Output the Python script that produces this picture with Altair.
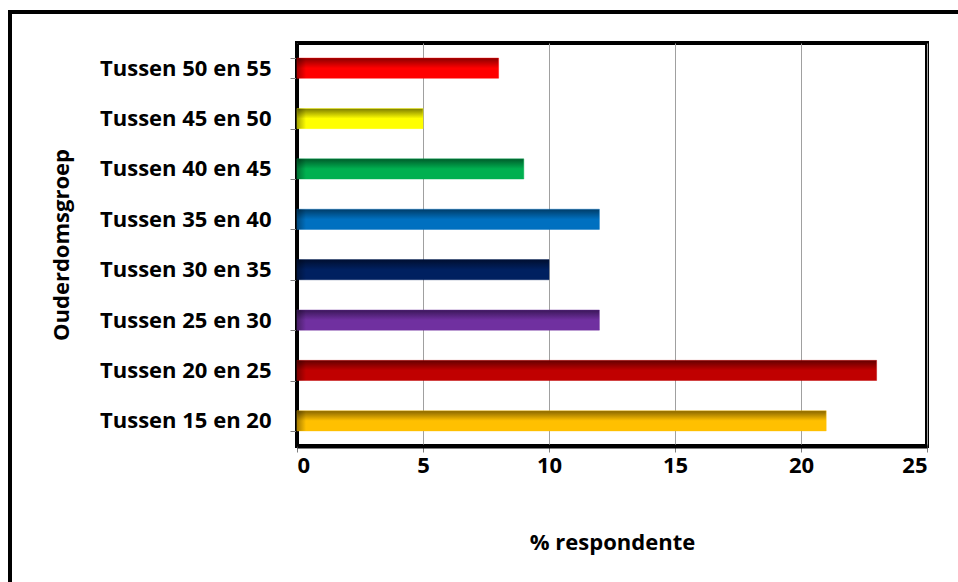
import altair as alt
import pandas as pd

# Age groups (top to bottom) and share of respondents in percent
groups = [
    "Tussen 50 en 55",
    "Tussen 45 en 50",
    "Tussen 40 en 45",
    "Tussen 35 en 40",
    "Tussen 30 en 35",
    "Tussen 25 en 30",
    "Tussen 20 en 25",
    "Tussen 15 en 20",
]
values = [8, 5, 9, 12, 10, 12, 23, 21]

# Bar fill: (shaded top, full colour)
palette = [
    ("#8a0000", "#ff0000"),
    ("#7d7d00", "#ffff00"),
    ("#005c2b", "#00b050"),
    ("#003c68", "#0070c0"),
    ("#000f30", "#002060"),
    ("#3a1758", "#7030a0"),
    ("#640000", "#c00000"),
    ("#866400", "#ffc000"),
]

df = pd.DataFrame({"group": groups, "value": values})

FONT = "Open Sans"
FS = 22

y_enc = alt.Y(
    "group:N",
    sort=groups,
    scale=alt.Scale(paddingInner=0.6, paddingOuter=0.3),
    axis=alt.Axis(
        title="Ouderdomsgroep",
        tickBand="extent",
        tickSize=7,
        tickColor="#7f7f7f",
        labelPadding=19,
        labelFontSize=FS,
        labelFontWeight="bold",
        labelColor="#000000",
        labelFont=FONT,
        titleFontSize=FS,
        titleFontWeight="bold",
        titleFont=FONT,
        titleColor="#000000",
        titlePadding=26,
        domainColor="#000000",
        domainWidth=3,
        grid=False,
    ),
)

x_enc = alt.X(
    "value:Q",
    scale=alt.Scale(domain=[0, 25], nice=False),
    axis=alt.Axis(
        title="% respondente",
        values=[0, 5, 10, 15, 20, 25],
        tickSize=6,
        tickColor="#7f7f7f",
        labelPadding=3,
        labelFontSize=FS,
        labelFontWeight="bold",
        labelColor="#000000",
        labelFont=FONT,
        titleFontSize=FS,
        titleFontWeight="bold",
        titleFont=FONT,
        titleColor="#000000",
        titlePadding=56,
        domainColor="#000000",
        domainWidth=4,
        grid=True,
        gridColor="#a0a0a0",
        gridWidth=1,
    ),
)

# Soft shadow at the base of each bar
base_shade = alt.LinearGradient(
    gradient="linear",
    x1=0, y1=0, x2=1, y2=0,
    stops=[
        alt.GradientStop(offset=0, color="rgba(0,0,0,0.35)"),
        alt.GradientStop(offset=1, color="rgba(0,0,0,0)"),
    ],
)

layers = []
for g, (dark, full) in zip(groups, palette):
    grad = alt.LinearGradient(
        gradient="linear",
        x1=0, y1=0, x2=0, y2=1,
        stops=[
            alt.GradientStop(offset=0, color=dark),
            alt.GradientStop(offset=0.5, color=full),
            alt.GradientStop(offset=1, color=full),
        ],
    )
    layers.append(
        alt.Chart(df)
        .transform_filter(alt.datum.group == g)
        .mark_bar(color=grad, stroke=full, strokeOpacity=0.45, strokeWidth=1)
        .encode(x=x_enc, y=y_enc)
    )

shade = (
    alt.Chart(df)
    .mark_bar(color=base_shade)
    .encode(x=alt.value(0), x2=alt.value(9), y=y_enc)
)

# Outer frame around the whole figure
frame_src = alt.Data(values=[{}])
frame_left = alt.Chart(frame_src).mark_rule(color="#000000", strokeWidth=4).encode(
    x=alt.value(-287), y=alt.value(-31), y2=alt.value(560)
)
frame_top = alt.Chart(frame_src).mark_rule(color="#000000", strokeWidth=4).encode(
    x=alt.value(-289), x2=alt.value(680), y=alt.value(-31)
)

chart = (
    alt.layer(*layers, shade, frame_left, frame_top)
    .properties(
        width=630,
        height=403,
        autosize=alt.AutoSizeParams(type="none"),
        padding={"left": 297, "top": 43, "right": 31, "bottom": 136},
        background="#ffffff",
    )
    .configure_view(stroke="#000000", strokeWidth=4)
)

chart.save("out.html", embed_options={"renderer": "svg", "actions": False})
